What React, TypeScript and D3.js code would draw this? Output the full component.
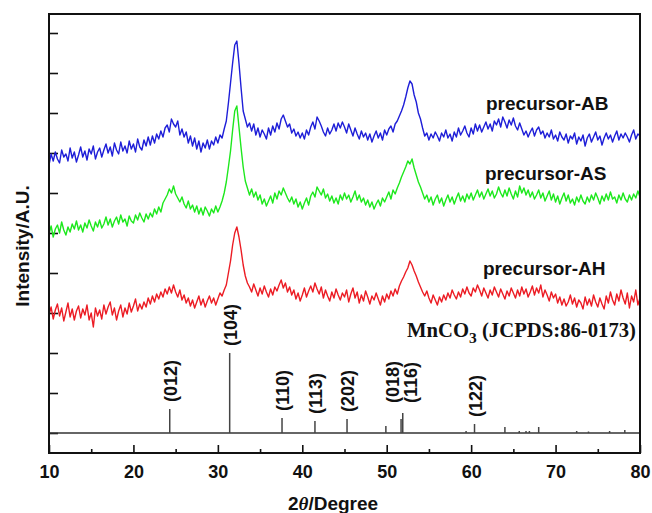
import React, { useEffect, useRef } from 'react';
import * as d3 from 'd3';

// 2theta grid of the scans (degrees)
const scanStart = 10;
const scanEnd = 80;
const scanStep = 0.25;

// intensities (arbitrary units, stacked offsets included)
const precursorAB = [
  268, 279, 272, 281, 274, 270, 283, 276, 279, 272, 285, 275, 281, 271, 278, 286,
  276, 282, 273, 284, 279, 287, 274, 281, 285, 276, 283, 289, 280, 286, 277, 290,
  283, 279, 291, 282, 287, 280, 292, 284, 289, 281, 294, 286, 283, 293, 287, 296,
  288, 297, 290, 299, 294, 302, 296, 305, 308, 301, 314, 309, 306, 312, 298, 304,
  296, 301, 290, 297, 287, 295, 284, 292, 281, 290, 285, 293, 284, 292, 288, 296,
  290, 298, 295, 304, 312, 330, 350, 370, 388, 392, 370, 345, 322, 314, 306, 310,
  302, 309, 298, 305, 296, 303, 299, 294, 305, 298, 307, 301, 310, 304, 314, 318,
  312, 306, 309, 300, 304, 297, 301, 295, 300, 294, 303, 298, 306, 311, 304, 316,
  312, 307, 301, 297, 305, 299, 303, 309, 302, 310, 305, 311, 306, 300, 309, 303,
  297, 305, 299, 294, 302, 296, 300, 293, 299, 291, 297, 302, 295, 300, 293, 303,
  298, 304, 307, 301, 309, 312, 317, 322, 328, 336, 345, 352, 349, 338, 331, 320,
  314, 305, 297, 300, 293, 299, 295, 301, 297, 292, 300, 296, 303, 295, 299, 292,
  301, 296, 305, 298, 302, 307, 300, 296, 305, 299, 309, 302, 308, 301, 306, 311,
  304, 309, 302, 312, 308, 314, 306, 316, 311, 305, 313, 308, 315, 307, 303, 310,
  304, 298, 302, 296, 301, 305, 297, 303, 306, 299, 302, 295, 300, 296, 303, 294,
  298, 292, 301, 296, 293, 299, 290, 297, 294, 300, 289, 296, 292, 298, 287, 295,
  299, 291, 296, 301, 293, 297, 288, 295, 300, 294, 298, 291, 297, 302, 293, 299,
  295, 300, 296, 291, 298, 303, 294, 299, 297,
];

const precursorAS = [
  199, 207, 196, 204, 208, 200, 211, 203, 198, 206, 201, 209, 204, 212, 203, 208,
  201, 210, 205, 213, 207, 202, 211, 206, 213, 205, 209, 216, 208, 214, 206, 212,
  216, 209, 218, 211, 214, 207, 217, 212, 210, 218, 213, 220, 215, 211, 219, 214,
  220, 216, 224, 219, 226, 221, 230, 234, 238, 244, 240, 247, 239, 235, 231, 236,
  229, 225, 232, 224, 228, 221, 227, 219, 225, 218, 226, 222, 217, 224, 220, 227,
  221, 226, 232, 240, 251, 266, 282, 303, 322, 327, 306, 285, 266, 252, 245, 238,
  244, 236, 241, 233, 238, 229, 234, 227, 232, 237, 230, 240, 234, 242, 238, 245,
  240, 235, 231, 236, 229, 234, 226, 231, 224, 230, 235, 228, 237, 241, 236, 246,
  242, 238, 244, 235, 239, 232, 237, 230, 235, 229, 238, 233, 240, 234, 238, 231,
  236, 242, 233, 238, 231, 235, 228, 233, 226, 231, 224, 229, 233, 227, 235, 231,
  236, 241, 234, 243, 239, 245, 250, 256, 261, 266, 272, 269, 274, 265, 258, 251,
  246, 240, 234, 238, 231, 236, 228, 234, 238, 230, 235, 227, 233, 238, 231, 236,
  229, 235, 240, 232, 237, 231, 239, 234, 240, 233, 238, 243, 236, 241, 234, 239,
  244, 237, 242, 235, 239, 246, 240, 236, 243, 237, 245, 239, 234, 242, 236, 247,
  240, 245, 238, 243, 236, 241, 234, 238, 243, 235, 240, 232, 237, 242, 233, 239,
  231, 237, 229, 235, 240, 232, 238, 230, 234, 228, 236, 231, 238, 232, 229, 236,
  231, 238, 233, 240, 235, 229, 237, 232, 239, 233, 241, 234, 236, 230, 238, 233,
  240, 234, 231, 238, 233, 239, 235, 242, 236,
];

const precursorAH = [
  118, 126, 114, 123, 129, 117, 125, 112, 121, 130, 116, 124, 113, 122, 127, 115,
  124, 118, 128, 113, 120, 106, 125, 117, 123, 114, 128, 119, 126, 131, 118, 125,
  113, 122, 128, 116, 125, 119, 130, 121, 127, 134, 122, 129, 124, 131, 126, 135,
  129, 137, 131, 139, 134, 141, 136, 144, 139, 146, 140, 148, 141, 136, 143, 133,
  138, 130, 135, 127, 133, 125, 131, 137, 128, 134, 126, 132, 137, 130, 135, 128,
  134, 140, 137, 143, 148, 160, 172, 188, 200, 206, 196, 183, 168, 157, 150, 146,
  141, 149, 143, 137, 145, 139, 147, 141, 136, 144, 138, 146, 142, 148, 153, 145,
  150, 141, 146, 138, 143, 134, 140, 132, 138, 145, 136, 142, 147, 141, 150, 144,
  139, 146, 135, 143, 137, 132, 141, 135, 144, 138, 133, 140, 136, 143, 131, 139,
  145, 135, 141, 130, 138, 132, 142, 136, 129, 137, 133, 140, 134, 128, 137, 131,
  139, 134, 142, 137, 144, 139, 147, 152, 156, 161, 165, 172, 168, 162, 157, 151,
  146, 141, 137, 142, 135, 130, 138, 133, 128, 136, 131, 138, 133, 140, 135, 143,
  138, 134, 141, 136, 144, 139, 146, 140, 137, 145, 141, 148, 143, 137, 145, 140,
  135, 143, 138, 146, 141, 136, 144, 139, 134, 142, 137, 145, 140, 135, 143, 137,
  146, 139, 144, 136, 141, 147, 138, 145, 140, 148, 136, 143, 138, 132, 141, 135,
  139, 130, 136, 128, 134, 127, 131, 138, 129, 135, 126, 133, 130, 124, 136, 128,
  134, 127, 138, 131, 126, 135, 129, 124, 137, 130, 141, 133, 128, 139, 132, 143,
  135, 129, 140, 125, 137, 131, 143, 128, 135,
];

const seriesNames = ['precursor-AB', 'precursor-AS', 'precursor-AH'];
const seriesColors = ['#1e1ed8', '#1de81d', '#ec1c24'];

// MnCO3 reference pattern (JCPDS 86-0173)
const refAngles = [24.3, 31.4, 37.6, 41.5, 45.3, 49.9, 51.7, 51.9, 59.4, 60.4, 64.0, 65.7, 66.5, 66.9, 68.0, 72.5, 73.9, 76.4, 78.2];
const refIntensity = [24, 80, 15, 12, 14, 7, 14, 20, 2, 9, 6, 2, 2, 2, 6, 2, 1.5, 2, 3];
const refLabels = ['(012)', '(104)', '(110)', '(113)', '(202)', '', '(018)', '(116)', '', '(122)', '', '', '', '', '', '', '', '', ''];

const xMajorTicks = [10, 20, 30, 40, 50, 60, 70, 80];
const xMinorTicks = [15, 25, 35, 45, 55, 65, 75];
const yTicks = [0, 40, 80, 120, 160, 200, 240, 280, 320, 360, 400];

const W = 652;
const H = 513;

const App = () => {
  const ref = useRef<SVGSVGElement>(null);

  useEffect(() => {
    const svg = d3.select(ref.current);
    svg.selectAll('*').remove();

    const x = d3.scaleLinear().domain([10, 80]).range([49, 640]);
    const y = d3.scaleLinear().domain([-20, 419]).range([453, 14]);

    const font = 'Arial, "Liberation Sans", sans-serif';

    // bottom axis (ticks point inward)
    const bottom = svg.append('g').attr('transform', `translate(0,${y(-20)})`);
    bottom.call(d3.axisBottom(x).tickValues(xMajorTicks).tickSize(-8).tickPadding(12).tickFormat(d3.format('d')) as any);
    bottom.append('g').call(d3.axisBottom(x).tickValues(xMinorTicks).tickSize(-4).tickFormat(() => '') as any);
    bottom.selectAll('.domain').remove();
    bottom.selectAll('line').attr('stroke', '#111').attr('stroke-width', 1.6);
    bottom.selectAll('text')
      .attr('font-family', font).attr('font-size', 18).attr('font-weight', 'bold').attr('fill', '#111');

    // left axis, no labels
    const left = svg.append('g').attr('transform', `translate(${x(10)},0)`);
    left.call(d3.axisLeft(y).tickValues(yTicks).tickSize(-9).tickFormat(() => '') as any);
    left.selectAll('.domain').remove();
    left.selectAll('line').attr('stroke', '#111').attr('stroke-width', 1.6);

    // reference baseline
    svg.append('line')
      .attr('x1', x(10)).attr('x2', x(80))
      .attr('y1', y(0)).attr('y2', y(0))
      .attr('stroke', '#333').attr('stroke-width', 1.4);

    // reference sticks
    svg.append('g').selectAll('line')
      .data(refAngles)
      .join('line')
      .attr('x1', d => x(d)).attr('x2', d => x(d))
      .attr('y1', y(0))
      .attr('y2', (d, i) => y(refIntensity[i]))
      .attr('stroke', '#444').attr('stroke-width', 1.5);

    // hkl labels, rotated
    const labelShift: Record<string, number> = { '(018)': -9, '(116)': 7 };
    refAngles.forEach((a, i) => {
      const lab = refLabels[i];
      if (!lab) return;
      const lx = x(a) + 7 + (labelShift[lab] || 0);
      const ly = lab === '(018)' || lab === '(116)' ? y(refIntensity[7]) - 10 : y(refIntensity[i]) - 7;
      svg.append('text')
        .attr('transform', `translate(${lx},${ly}) rotate(-90)`)
        .attr('font-family', font).attr('font-size', 18).attr('font-weight', 'bold')
        .attr('fill', '#111')
        .text(lab);
    });

    // scans
    const series = [precursorAB, precursorAS, precursorAH];
    const line = d3.line<number>()
      .x((d, i) => x(scanStart + i * scanStep))
      .y(d => y(d));
    series.forEach((vals, k) => {
      svg.append('path')
        .datum(vals.filter((_, i) => scanStart + i * scanStep <= scanEnd))
        .attr('fill', 'none')
        .attr('stroke', seriesColors[k])
        .attr('stroke-width', 1.4)
        .attr('stroke-linejoin', 'round')
        .attr('d', line);
    });

    // series names
    const namePos = [[486, 110], [485, 180], [483, 275]];
    seriesNames.forEach((n, k) => {
      svg.append('text')
        .attr('x', namePos[k][0]).attr('y', namePos[k][1])
        .attr('font-family', font).attr('font-size', 19).attr('font-weight', 'bold')
        .attr('fill', '#111')
        .text(n);
    });

    // reference card title
    const title = svg.append('text')
      .attr('x', 407).attr('y', 337)
      .attr('font-family', '"Liberation Serif", "Times New Roman", serif')
      .attr('font-size', 20).attr('font-weight', 'bold').attr('fill', '#111')
      .attr('textLength', 229).attr('lengthAdjust', 'spacingAndGlyphs');
    title.append('tspan').text('MnCO');
    title.append('tspan').attr('font-size', 15).attr('dy', 6).text('3');
    title.append('tspan').attr('dy', -6).text(' (JCPDS:86-0173)');

    // frame
    svg.append('rect')
      .attr('x', x(10)).attr('y', y(419))
      .attr('width', x(80) - x(10)).attr('height', y(-20) - y(419))
      .attr('fill', 'none').attr('stroke', '#111').attr('stroke-width', 2);

    // axis titles
    svg.append('text')
      .attr('transform', `translate(29,246) rotate(-90)`)
      .attr('text-anchor', 'middle')
      .attr('font-family', font).attr('font-size', 19).attr('font-weight', 'bold')
      .attr('fill', '#111')
      .text('Intensity/A.U.');

    const xt = svg.append('text')
      .attr('x', 333).attr('y', 510)
      .attr('text-anchor', 'middle')
      .attr('font-family', font).attr('font-size', 19).attr('font-weight', 'bold')
      .attr('fill', '#111');
    xt.append('tspan').text('2');
    xt.append('tspan').attr('font-style', 'italic').attr('font-family', '"Liberation Serif", serif').text('θ');
    xt.append('tspan').text('/Degree');
  }, []);

  return (
    <svg ref={ref} width={W} height={H} style={{ position: 'absolute', left: 0, top: 0, background: '#fff' }} />
  );
};

export default App;
